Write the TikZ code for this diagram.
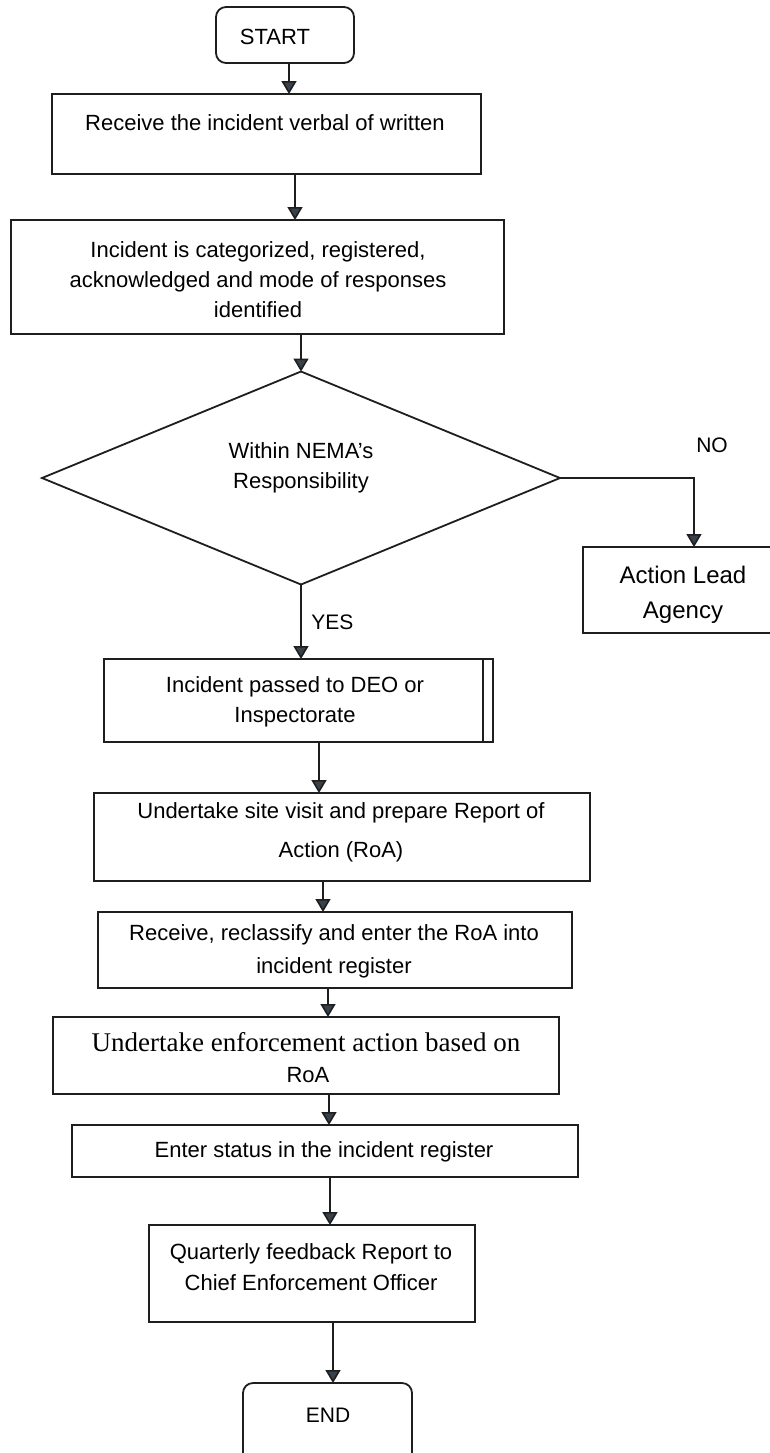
\documentclass[tikz,border=0pt]{standalone}
\usepackage{fontspec}
\setmainfont{Liberation Sans}
\newfontfamily\timesf{Liberation Serif}
\usetikzlibrary{shapes.geometric,arrows.meta}
\definecolor{ink}{HTML}{1E1E1E}
\definecolor{tipgray}{HTML}{38424C}
\begin{document}
\begin{tikzpicture}[x=0.5pt,y=-0.5pt,
  box/.style={draw=ink,line width=0.9pt,inner sep=0pt,outer sep=0pt,rectangle},
  term/.style={box,rounded corners=5pt},
  dec/.style={draw=ink,line width=0.9pt,diamond,inner sep=0pt,outer sep=0pt},
  txt/.style={font=\fontsize{11}{15}\selectfont,align=center,inner sep=0pt,text=black},
  lbl/.style={font=\fontsize{10.5}{13}\selectfont,inner sep=0pt,text=black},
  arr/.style={draw=ink,line width=0.8pt,-{Triangle[width=7.5pt,length=6.5pt,fill=tipgray]}},
  conn/.style={draw=ink,line width=0.8pt}
]
\useasboundingbox (0,0) rectangle (770,1453);
\clip (0,0) rectangle (770,1453);
\fill[white] (0,0) rectangle (770,1453);

% shapes
\node[term,minimum width=69pt,minimum height=28pt] (start) at (285,35) {};
\node[txt] (tstart) at (275,37) {START};

\node[box,minimum width=214.5pt,minimum height=40pt] (b1) at (266.5,134) {};
\node[txt] (t1) at (265,123) {Receive the incident verbal of written};

\node[box,minimum width=246.5pt,minimum height=57pt] (b2) at (257.5,277) {};
\node[txt] (t2) at (258,280) {Incident is categorized, registered,\\acknowledged and mode of responses\\identified};

\node[dec,minimum width=259pt,minimum height=106.5pt] (dia) at (301,478) {};
\node[txt] (tdia) at (301,468) {Within NEMA’s\\Responsibility};

\node[box,minimum width=108.5pt,minimum height=43pt] (act) at (691.5,590) {};
\node[txt,font=\fontsize{12}{17.5}\selectfont] (tact) at (683,595) {Action Lead\\Agency};

\node[lbl] (tno) at (712,445) {NO};
\node[lbl,anchor=west] (tyes) at (311,622) {YES};

\node[box,minimum width=194.5pt,minimum height=41.5pt] (deo) at (298.5,700.5) {};
\draw[conn] ([xshift=-5pt]deo.north east) -- ([xshift=-5pt]deo.south east);
\node[txt] (tdeo) at (295,702) {Incident passed to DEO or\\Inspectorate};

\node[box,minimum width=248pt,minimum height=44pt] (roa) at (342,837) {};
\node[txt,font=\fontsize{11}{19.5}\selectfont] (troa) at (341,832) {Undertake site visit and prepare Report of\\Action (RoA)};

\node[box,minimum width=237pt,minimum height=38pt] (rec) at (335,950) {};
\node[txt,font=\fontsize{11}{16.5}\selectfont] (trec) at (334,951) {Receive, reclassify and enter the RoA into\\incident register};

\node[box,minimum width=253pt,minimum height=38.5pt] (enf) at (306,1055.5) {};
\node[txt,font=\timesf\fontsize{13.5}{16}\selectfont] (tenf1) at (306,1042) {Undertake enforcement action based on};
\node[txt] (tenf2) at (308,1075) {RoA};

\node[box,minimum width=253pt,minimum height=26pt] (ent) at (325,1151) {};
\node[txt] (tent) at (324,1152) {Enter status in the incident register};

\node[box,minimum width=163pt,minimum height=48.5pt] (qtr) at (312,1273.5) {};
\node[txt,font=\fontsize{11}{15.5}\selectfont] (tqtr) at (311,1267) {Quarterly feedback Report to\\Chief Enforcement Officer};

\node[term,minimum width=84.5pt,minimum height=43.5pt] (stop) at (327.5,1426.5) {};
\node[lbl] (tstop) at (328,1415) {END};

% connector x positions
\coordinate (c1) at (289,0);
\coordinate (c2) at (295,0);
\coordinate (c6) at (319,0);
\coordinate (c7) at (323,0);
\coordinate (c8) at (328,0);
\coordinate (c9) at (329,0);
\coordinate (c10) at (330,0);
\coordinate (c11) at (333,0);
\coordinate (nturn) at (694,0);

% connectors
\draw[arr] (start.south -| c1) -- (b1.north -| c1);
\draw[arr] (b1.south -| c2) -- (b2.north -| c2);
\draw[arr] (b2.south -| dia.north) -- (dia.north);
\draw[arr] (dia.south) -- (dia.south |- deo.north);
\draw[arr] (dia.east) -- (dia.east -| nturn) -- (nturn |- act.north);
\draw[arr] (deo.south -| c6) -- (roa.north -| c6);
\draw[arr] (roa.south -| c7) -- (rec.north -| c7);
\draw[arr] (rec.south -| c8) -- (enf.north -| c8);
\draw[arr] (enf.south -| c9) -- (ent.north -| c9);
\draw[arr] (ent.south -| c10) -- (qtr.north -| c10);
\draw[arr] (qtr.south -| c11) -- (stop.north -| c11);
\end{tikzpicture}
\end{document}
